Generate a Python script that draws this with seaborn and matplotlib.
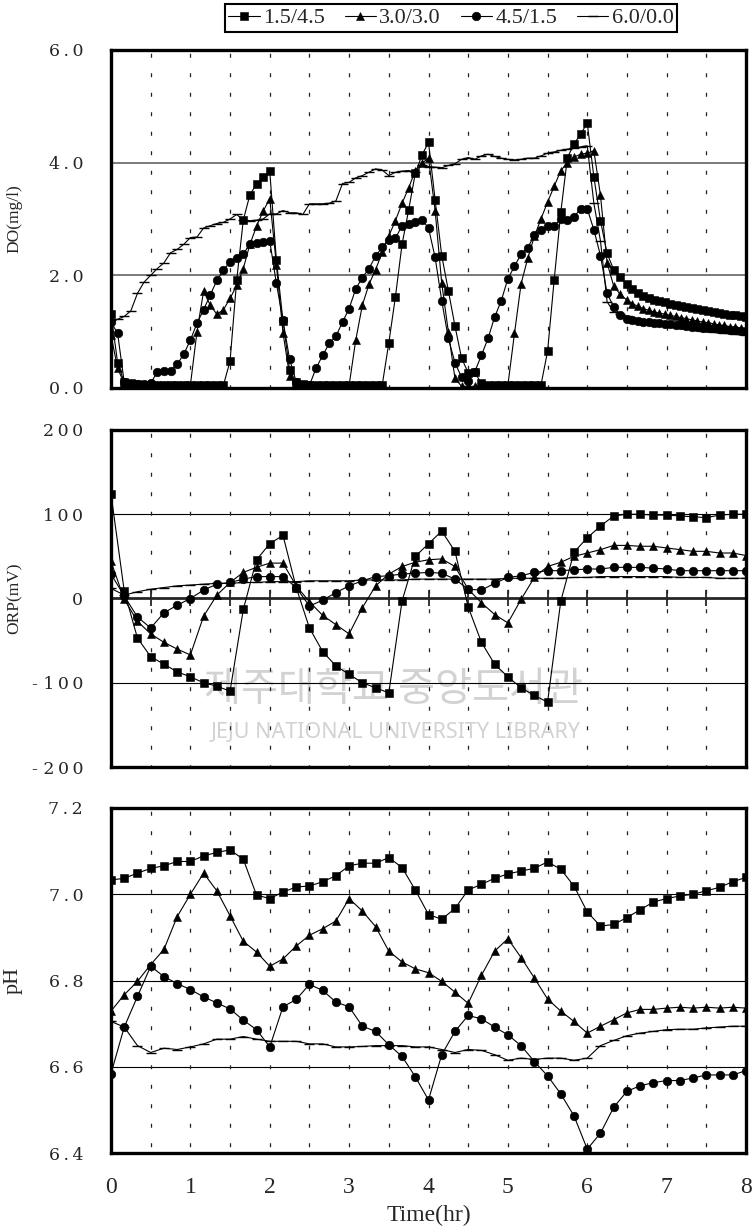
import numpy as np
import matplotlib
matplotlib.use('Agg')
import matplotlib.pyplot as plt
import seaborn as sns

sns.set_style('white')
plt.rcParams['font.family'] = ['Liberation Serif', 'DejaVu Serif']

# ---------------- data ----------------
series_labels = ['1.5/4.5', '3.0/3.0', '4.5/1.5', '6.0/0.0']
series_markers = ['s', '^', 'o', '_']

# DO sampling: every 5 min to 6.5 h, then ~4 min to 8 h
t_do = np.concatenate([np.arange(79) / 12.0, 6.5 + np.arange(1, 23) * 1.5 / 22])
# ORP / pH sampling: every 10 min
t_10 = np.arange(49) / 6.0

do_15 = [1.32, 0.45, 0.10, 0.08, 0.07, 0.06, 0.06, 0.05, 0.05, 0.05,
         0.05, 0.05, 0.05, 0.05, 0.05, 0.05, 0.05, 0.05, 0.48, 1.91,
         2.98, 3.43, 3.62, 3.74, 3.85, 2.28, 1.19, 0.32, 0.10, 0.07,
         0.06, 0.05, 0.05, 0.05, 0.05, 0.05, 0.05, 0.05, 0.05, 0.05,
         0.05, 0.05, 0.80, 1.62, 2.55, 3.16, 3.81, 4.13, 4.36, 3.34,
         2.35, 1.73, 1.10, 0.53, 0.27, 0.28, 0.08, 0.06, 0.05, 0.05,
         0.05, 0.05, 0.05, 0.05, 0.05, 0.05, 0.65, 1.92, 3.12, 4.09,
         4.33, 4.51, 4.70, 3.75, 2.97, 2.39, 2.10, 1.97, 1.84,
         1.75, 1.68, 1.63, 1.59, 1.56, 1.54, 1.52, 1.50, 1.48, 1.46, 1.44,
         1.42, 1.40, 1.38, 1.37, 1.35, 1.33, 1.32, 1.30, 1.29, 1.27, 1.26]
do_30 = [0.94, 0.35, 0.08, 0.06, 0.05, 0.05, 0.05, 0.05, 0.05, 0.05,
         0.05, 0.05, 0.05, 1.00, 1.72, 1.47, 1.31, 1.39, 1.59, 1.82,
         2.12, 2.55, 2.87, 3.14, 3.36, 2.19, 0.98, 0.22, 0.08, 0.05,
         0.04, 0.04, 0.04, 0.04, 0.04, 0.04, 0.05, 0.85, 1.47, 1.84,
         2.10, 2.41, 2.70, 2.97, 3.28, 3.55, 3.86, 3.99, 4.08, 3.15,
         1.86, 1.00, 0.17, 0.03, 0.03, 0.03, 0.03, 0.03, 0.03, 0.03,
         0.05, 0.97, 1.85, 2.30, 2.69, 3.00, 3.30, 3.58, 3.86, 4.00,
         4.10, 4.15, 4.17, 4.21, 3.42, 2.22, 1.81, 1.66, 1.56,
         1.50, 1.45, 1.41, 1.38, 1.35, 1.33, 1.31, 1.29, 1.27, 1.25, 1.23,
         1.21, 1.19, 1.17, 1.16, 1.14, 1.12, 1.11, 1.09, 1.08, 1.06, 1.05]
do_45 = [1.17, 0.97, 0.10, 0.07, 0.07, 0.07, 0.08, 0.29, 0.30, 0.31,
         0.42, 0.60, 0.85, 1.15, 1.39, 1.65, 1.91, 2.09, 2.24, 2.30,
         2.38, 2.55, 2.57, 2.59, 2.61, 1.86, 1.20, 0.51, 0.11, 0.05,
         0.05, 0.35, 0.58, 0.79, 0.92, 1.17, 1.41, 1.76, 1.96, 2.12,
         2.34, 2.50, 2.63, 2.66, 2.88, 2.92, 2.94, 2.99, 2.84, 2.32,
         1.55, 0.88, 0.45, 0.19, 0.12, 0.29, 0.58, 0.88, 1.26, 1.55,
         1.94, 2.16, 2.38, 2.49, 2.71, 2.81, 2.88, 2.88, 3.00, 2.98,
         3.04, 3.18, 3.18, 2.81, 2.35, 1.68, 1.44, 1.29, 1.23,
         1.21, 1.19, 1.18, 1.17, 1.16, 1.15, 1.14, 1.13, 1.12, 1.11, 1.10,
         1.09, 1.08, 1.07, 1.06, 1.06, 1.05, 1.04, 1.03, 1.03, 1.02, 1.01]
do_60 = [1.20, 1.22, 1.27, 1.37, 1.68, 1.88, 2.00, 2.12, 2.22, 2.40,
         2.46, 2.55, 2.67, 2.68, 2.84, 2.88, 2.92, 2.94, 3.00, 3.08,
         2.98, 2.97, 2.98, 3.00, 3.09, 3.09, 3.15, 3.11, 3.11, 3.08,
         3.27, 3.27, 3.27, 3.28, 3.32, 3.63, 3.65, 3.73, 3.77, 3.83,
         3.89, 3.87, 3.77, 3.83, 3.85, 3.86, 3.83, 3.95, 3.93, 3.92,
         3.91, 3.95, 3.98, 4.06, 4.09, 4.06, 4.12, 4.15, 4.11, 4.08,
         4.06, 4.05, 4.06, 4.08, 4.08, 4.12, 4.17, 4.19, 4.22, 4.24,
         4.26, 4.28, 4.30, 3.28, 2.61, 1.53, 1.35, 1.31, 1.27,
         1.24, 1.21, 1.19, 1.17, 1.15, 1.13, 1.12, 1.10, 1.09, 1.07, 1.06,
         1.05, 1.04, 1.02, 1.01, 1.00, 0.99, 0.98, 0.97, 0.96, 0.95, 0.94]

orp_15 = [124, 9, -47, -69, -78, -87, -93, -100, -104, -110,
          -13, 46, 65, 75, 13, -35, -63, -80, -90, -100,
          -106, -112, -3, 50, 65, 80, 56, -10, -52, -78,
          -93, -106, -115, -123, -3, 55, 72, 86, 98, 100,
          100, 99, 99, 98, 97, 96, 99, 100, 100]
orp_30 = [44, -1, -27, -42, -52, -60, -67, -21, 4, 19,
          31, 37, 42, 42, 15, -4, -20, -31, -42, -11,
          15, 29, 38, 43, 46, 47, 38, 11, -5, -19,
          -29, -1, 25, 38, 43, 50, 54, 58, 63, 63,
          62, 62, 60, 58, 56, 56, 54, 54, 51]
orp_45 = [29, 3, -22, -35, -17, -8, 0, 10, 17, 19,
          23, 26, 26, 26, 13, -9, -2, 7, 15, 21,
          26, 27, 29, 30, 31, 30, 23, 11, 10, 18,
          25, 27, 31, 33, 33, 34, 35, 35, 37, 37,
          37, 36, 35, 33, 33, 33, 33, 33, 33]
orp_60 = [12, 4, 8, 11, 13, 15, 16, 17, 18, 18,
          19, 19, 20, 20, 20, 21, 21, 21, 21, 22,
          22, 22, 22, 23, 23, 23, 23, 23, 23, 23,
          24, 24, 24, 24, 24, 25, 25, 26, 26, 26,
          26, 26, 26, 25, 25, 25, 24, 24, 24]

ph_15 = [7.033, 7.037, 7.049, 7.060, 7.066, 7.076, 7.076, 7.089, 7.097, 7.103,
         7.081, 6.998, 6.990, 7.005, 7.017, 7.019, 7.029, 7.043, 7.066, 7.072,
         7.072, 7.085, 7.062, 7.010, 6.953, 6.942, 6.967, 7.010, 7.023, 7.037,
         7.047, 7.054, 7.060, 7.075, 7.058, 7.019, 6.959, 6.926, 6.930, 6.946,
         6.964, 6.982, 6.990, 6.996, 7.000, 7.008, 7.016, 7.029, 7.039]
ph_30 = [6.729, 6.767, 6.798, 6.837, 6.872, 6.948, 7.000, 7.049, 7.008, 6.950,
         6.891, 6.866, 6.833, 6.850, 6.880, 6.905, 6.920, 6.938, 6.990, 6.961,
         6.925, 6.868, 6.843, 6.827, 6.818, 6.798, 6.773, 6.747, 6.812, 6.868,
         6.897, 6.853, 6.806, 6.757, 6.729, 6.705, 6.678, 6.694, 6.709, 6.725,
         6.733, 6.733, 6.736, 6.738, 6.736, 6.738, 6.736, 6.738, 6.736]
ph_45 = [6.584, 6.692, 6.763, 6.833, 6.809, 6.793, 6.779, 6.762, 6.748, 6.734,
         6.708, 6.686, 6.646, 6.739, 6.756, 6.791, 6.777, 6.750, 6.739, 6.694,
         6.682, 6.651, 6.624, 6.577, 6.523, 6.628, 6.682, 6.719, 6.711, 6.692,
         6.674, 6.649, 6.612, 6.579, 6.537, 6.486, 6.409, 6.446, 6.506, 6.543,
         6.556, 6.563, 6.568, 6.568, 6.574, 6.581, 6.581, 6.581, 6.591]
ph_60 = [6.705, 6.692, 6.649, 6.633, 6.643, 6.640, 6.646, 6.653, 6.664, 6.664,
         6.670, 6.664, 6.659, 6.659, 6.659, 6.653, 6.653, 6.646, 6.646, 6.647,
         6.649, 6.649, 6.649, 6.646, 6.646, 6.640, 6.633, 6.640, 6.638, 6.628,
         6.615, 6.620, 6.617, 6.620, 6.620, 6.615, 6.620, 6.649, 6.661, 6.672,
         6.678, 6.682, 6.686, 6.687, 6.687, 6.690, 6.692, 6.694, 6.694]

do_ticks = [0.0, 2.0, 4.0, 6.0]
do_ticklabels = ['0.0', '2.0', '4.0', '6.0']
orp_ticks = [-200, -100, 0, 100, 200]
orp_ticklabels = ['- 200', '- 100', '0', '100', '200']
ph_ticks = [6.4, 6.6, 6.8, 7.0, 7.2]
ph_ticklabels = ['6.4', '6.6', '6.8', '7.0', '7.2']
x_ticks = [0, 1, 2, 3, 4, 5, 6, 7, 8]

# ---------------- figure ----------------
fig = plt.figure(figsize=(7.56, 12.32), dpi=100)
L, W = 111 / 756, 635 / 756
ax_do = fig.add_axes([L, 1 - 388 / 1232, W, 338 / 1232])
ax_orp = fig.add_axes([L, 1 - 767 / 1232, W, 337 / 1232])
ax_ph = fig.add_axes([L, 1 - 1153 / 1232, W, 345 / 1232])

def spaced(s):
    return '\u2009'.join(list(s))

msizes = {'s': 5.6, '^': 6.4, 'o': 6.2, '_': 7}

def draw(ax, t, ys):
    for y, m, lab in zip(ys, series_markers, series_labels):
        sns.lineplot(x=t, y=y, ax=ax, color='black', marker=m,
                     markersize=msizes[m], linewidth=0.8,
                     markeredgecolor='black', markerfacecolor='black',
                     markeredgewidth=1.0 if m == '_' else 0.4,
                     estimator=None, sort=False, label=lab, zorder=3)
    if ax.get_legend() is not None:
        ax.get_legend().remove()

def frame(ax, ylim, ticks, labels, hlines, hcolor, hlw):
    ax.set_xlim(0, 8)
    ax.set_ylim(*ylim)
    ax.set_yticks(ticks)
    ax.set_yticklabels([spaced(s) if not s.startswith('-') else '- ' + spaced(s[2:]) for s in labels],
                       family='DejaVu Serif', fontsize=12.5)
    ax.tick_params(axis='y', length=0, pad=20)
    ax.tick_params(axis='x', length=0)
    for sp in ax.spines.values():
        sp.set_linewidth(2.4)
        sp.set_color('black')
    for v in hlines:
        ax.axhline(v, color=hcolor, lw=hlw, zorder=1)
    for xv in np.arange(0.5, 8, 0.5):
        ax.axvline(xv, ymin=1, ymax=0, color='#222222', lw=0.9,
                   ls=(13.0, (3.2, 12.4)), zorder=1)
    ax.set_xlabel('')

draw(ax_do, t_do, [do_15, do_30, do_45, do_60])
frame(ax_do, (0, 6), do_ticks, do_ticklabels, [2.0, 4.0], '#707070', 1.3)
ax_do.set_xticks(x_ticks)
ax_do.set_xticklabels([])
ax_do.set_ylabel('DO(mg/l)', fontsize=12.5)

draw(ax_orp, t_10, [orp_15, orp_30, orp_45, orp_60])
frame(ax_orp, (-200, 200), orp_ticks, orp_ticklabels, [-100, 100], 'black', 0.8)
ax_orp.set_xticks(x_ticks)
ax_orp.set_xticklabels([])
ax_orp.set_ylabel('ORP(mV)', fontsize=12.5)
zero_ax = ax_orp.secondary_xaxis(0.5)
zero_ax.set_xticks(np.arange(0.5, 8, 0.5))
zero_ax.tick_params(axis='x', direction='inout', length=11, width=1.3,
                    labeltop=False, labelbottom=False)
for s in ['top', 'bottom']:
    zero_ax.spines[s].set_linewidth(2.0)

draw(ax_ph, t_10, [ph_15, ph_30, ph_45, ph_60])
frame(ax_ph, (6.4, 7.2), ph_ticks, ph_ticklabels, [6.6, 6.8, 7.0], 'black', 0.8)
ax_ph.set_xticks(x_ticks)
ax_ph.set_xticklabels([str(v) for v in x_ticks], fontsize=17)
ax_ph.tick_params(axis='x', pad=17)
ax_ph.set_ylabel('pH', fontsize=16)
ax_ph.set_xlabel('Time(hr)', fontsize=17, va='center')
ax_ph.xaxis.set_label_coords(0.5, -(1215 - 1153) / 345)

for ax in (ax_do, ax_orp, ax_ph):
    ax.yaxis.set_label_coords(-0.139, 0.5)

# watermark of the scanned source
ax_orp.text(393 / 756, 1 - 690 / 1232, '제주대학교 중앙도서관', transform=fig.transFigure,
            ha='center', va='center', fontsize=29, color='#d2d2d2', fontweight='medium',
            family=['Noto Sans CJK KR', 'DejaVu Sans'], zorder=0)
ax_orp.text(396 / 756, 1 - 733 / 1232, 'JEJU NATIONAL UNIVERSITY LIBRARY',
            transform=fig.transFigure, ha='center', va='center', fontsize=15.5,
            color='#d2d2d2', family=['Noto Sans', 'DejaVu Sans'], zorder=0)

handles, labels = ax_do.get_legend_handles_labels()
leg = fig.legend(handles, labels, loc='center', bbox_to_anchor=(451 / 756, 1 - 18 / 1232),
                 ncol=4, frameon=True, fancybox=False, edgecolor='black',
                 framealpha=1, borderpad=0.15, handlelength=1.4,
                 handletextpad=0.15, columnspacing=0.9, borderaxespad=0,
                 prop={'family': 'Liberation Serif', 'size': 16})
leg.get_frame().set_linewidth(1.5)

fig.savefig('out.png', dpi=100)
